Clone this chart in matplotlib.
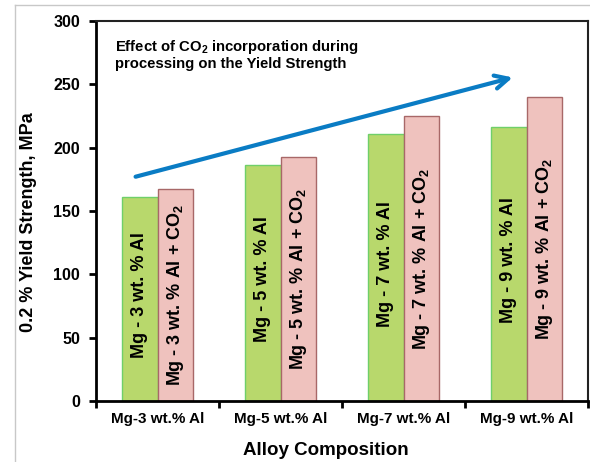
import matplotlib
matplotlib.use("Agg")
import matplotlib.pyplot as plt
import numpy as np
from matplotlib.lines import Line2D

plt.rcParams['font.family'] = ['Liberation Sans', 'DejaVu Sans']
plt.rcParams['font.weight'] = 'bold'
plt.rcParams['mathtext.fontset'] = 'custom'
plt.rcParams['mathtext.rm'] = 'Liberation Sans:bold'
plt.rcParams['mathtext.it'] = 'Liberation Sans:bold'
plt.rcParams['mathtext.bf'] = 'Liberation Sans:bold'

categories = ['Mg-3 wt.% Al', 'Mg-5 wt.% Al', 'Mg-7 wt.% Al', 'Mg-9 wt.% Al']
base_vals = [161, 186, 211, 216]
co2_vals = [167, 193, 225, 240]
base_labels = ['Mg - 3 wt. % Al', 'Mg - 5 wt. % Al', 'Mg - 7 wt. % Al', 'Mg - 9 wt. % Al']
co2_labels = [r'Mg - 3 wt. % Al + CO$_2$', r'Mg - 5 wt. % Al + CO$_2$',
              r'Mg - 7 wt. % Al + CO$_2$', r'Mg - 9 wt. % Al + CO$_2$']
yticks = [0, 50, 100, 150, 200, 250, 300]

fig = plt.figure(figsize=(5.9, 4.62), dpi=100)
ax = fig.add_axes([96/590, 61/462, 492/590, 380/462])

x = np.arange(len(categories))
w = 0.285
ax.bar(x - w/2, base_vals, w, color='#b8d86c', edgecolor='#6fcf6a', linewidth=1.0, zorder=2)
ax.bar(x + w/2, co2_vals, w, color='#efc2be', edgecolor='#a86868', linewidth=1.0, zorder=2)

for xi, v, lab in zip(x - w/2, base_vals, base_labels):
    ax.text(xi, v/2 + 3, lab, rotation=90, ha='center', va='center', fontsize=13,
            fontweight='bold', color='black', zorder=3)
for xi, v, lab in zip(x + w/2, co2_vals, co2_labels):
    ax.text(xi, v/2, lab, rotation=90, ha='center', va='center', fontsize=13,
            fontweight='bold', color='black', zorder=3)

ax.set_xlim(-0.5, 3.5)
ax.set_ylim(0, 300)
ax.set_yticks(yticks)
ax.set_yticklabels([str(t) for t in yticks], fontsize=11.5, fontweight='bold')
ax.set_xticks(x)
ax.set_xticklabels(categories, fontsize=11, fontweight='bold')
ax.tick_params(axis='x', length=0, pad=8)
ax.set_xticks(np.arange(-0.5, 4.0, 1.0), minor=True)
ax.tick_params(axis='x', which='minor', length=5, width=2, direction='out')
ax.tick_params(axis='y', length=5, width=2, direction='out', pad=6.5)

for s in ['left', 'bottom']:
    ax.spines[s].set_linewidth(2)
for s in ['top', 'right']:
    ax.spines[s].set_linewidth(1.5)
    ax.spines[s].set_color('#222222')

ax.set_ylabel('0.2 % Yield Strength, MPa', fontsize=13, fontweight='bold')
ax.yaxis.set_label_coords(-0.119, 0.471)
ax.set_xlabel('Alloy Composition', fontsize=13.5, fontweight='bold')
ax.xaxis.set_label_coords(0.467, -0.108)

ax.text(0.038, 0.955, 'Effect of CO$_2$ incorporation during\nprocessing on the Yield Strength',
        transform=ax.transAxes, ha='left', va='top', fontsize=10.7, fontweight='bold',
        linespacing=1.1)

ax.annotate('', xy=(2.91, 256), xytext=(-0.2, 176.5),
            arrowprops=dict(arrowstyle='->', color='#0a7cc4', lw=3, mutation_scale=24),
            zorder=4)

fig.add_artist(Line2D([15/590, 15/590], [0, 1 - 5/462], transform=fig.transFigure,
                      color='#c8c8c8', lw=1))
fig.add_artist(Line2D([15/590, 1], [1 - 5/462, 1 - 5/462], transform=fig.transFigure,
                      color='#c8c8c8', lw=1))

fig.savefig('out.png', dpi=100)
